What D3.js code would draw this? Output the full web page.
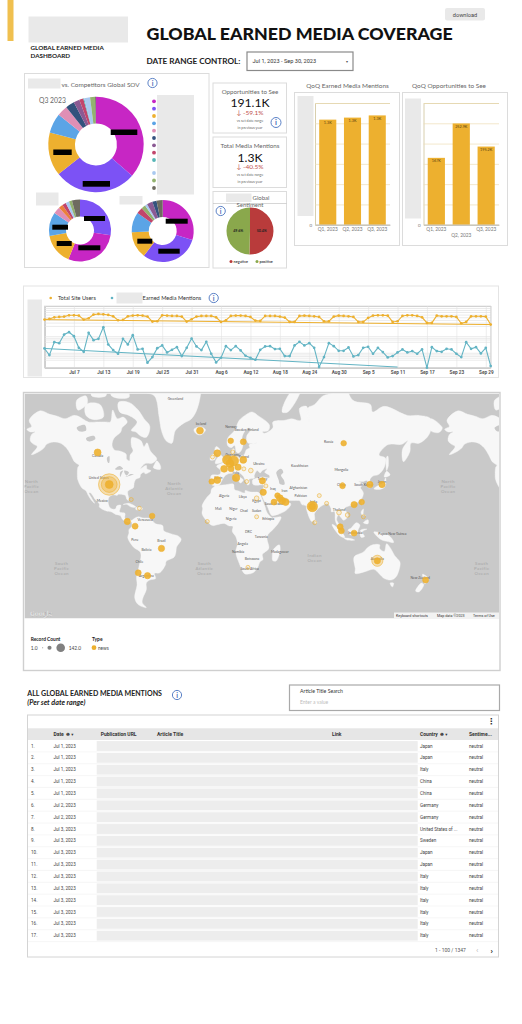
<!DOCTYPE html>
<html>
<head>
<meta charset="utf-8">
<script src="https://cdn.jsdelivr.net/npm/d3@7"></script>
<style>
  html, body { margin: 0; background: #fff; }
  svg { display: block; font-family: Lato, "Open Sans", sans-serif; }
</style>
</head>
<body>
<script>
// donuts
const sovColors = ['#c726c4', '#7c52f5', '#edb02f', '#5ba4e6', '#e08fb5', '#33527d', '#8b5a93', '#c2456b', '#55b5b5', '#a9c9f0', '#93b26f', '#6e6b60'];
const sovMain = [36.4, 28, 14.7, 6.7, 3.6, 3, 2, 1.4, 0.3, 2, 1.7, 0.3];
const sovLeft = [27.5, 28.6, 16, 12.5, 3.6, 2.2, 2, 1.8, 1.6, 4.2];
const sovLeftColors = ['#7c52f5', '#c726c4', '#edb02f', '#5ba4e6', '#e08fb5', '#ea7f3c', '#c2456b', '#a9c9f0', '#93b26f', '#6e6b60'];
const sovRight = [29.7, 30.6, 14, 10.5, 3.3, 2.2, 1.2, 3, 2.2, 3.2];
const sovRightColors = ['#c726c4', '#7c52f5', '#edb02f', '#5ba4e6', '#c2456b', '#93b26f', '#a9c9f0', '#8b5a93', '#33527d', '#6e6b60'];

// sentiment
const sentimentNames = ['negative', 'positive'];
const sentimentValues = [50.4, 49.6];

// quarters
const quarters = ['Q1, 2023', 'Q2, 2023', 'Q3, 2023'];
const mentionsByQuarter = [1295, 1320, 1347];
const opportunitiesByQuarter = [167000, 252900, 195200];

const siteUsers = [145, 147, 152, 153, 154, 158, 158, 157, 145, 149, 160, 162, 161, 159, 155, 143, 144, 155, 157, 158, 157, 154, 139, 140, 158, 157, 156, 156, 154, 139, 146, 154, 156, 156, 156, 152, 138, 143, 156, 157, 157, 156, 153, 142, 141, 156, 156, 156, 154, 151, 138, 138, 156, 157, 156, 155, 153, 140, 140, 154, 157, 156, 155, 153, 138, 138, 150, 157, 158, 158, 157, 138, 140, 156, 158, 158, 156, 152, 135, 135, 157, 155, 155, 155, 153, 134, 138, 155, 155, 155, 154, 130];
const mediaMentions = [58, 38, 77, 74, 100, 107, 95, 60, 48, 105, 83, 87, 122, 70, 53, 42, 87, 70, 98, 55, 57, 15, 32, 59, 67, 46, 54, 62, 35, 60, 88, 64, 53, 78, 42, 16, 30, 65, 53, 65, 52, 36, 30, 24, 54, 64, 65, 56, 57, 35, 35, 67, 78, 67, 74, 60, 2, 32, 74, 65, 51, 51, 61, 34, 38, 60, 63, 42, 60, 47, 31, 35, 46, 55, 46, 50, 42, 55, 0, 62, 50, 48, 57, 55, 42, 32, 77, 57, 62, 43, 60, 5];
const usersTrendValues = [145, 130];
const mentionsTrendValues = [58, 2];
const mentionsTrendDays = [new Date(2023, 6, 1), new Date(2023, 8, 11)];
const usersTrendDays = [new Date(2023, 6, 1), new Date(2023, 8, 30)];
const gridValues = [186, 180, 174, 168, 160, 152, 144, 136, 126, 95, 90, 85, 78, 45, 40, 35, 30, 24];
const dayTicks = [new Date(2023, 6, 7), new Date(2023, 6, 13), new Date(2023, 6, 19), new Date(2023, 6, 25), new Date(2023, 6, 31), new Date(2023, 7, 6), new Date(2023, 7, 12), new Date(2023, 7, 18), new Date(2023, 7, 24), new Date(2023, 7, 30), new Date(2023, 8, 5), new Date(2023, 8, 11), new Date(2023, 8, 17), new Date(2023, 8, 23), new Date(2023, 8, 29)];

// map: lon / lat outlines
const landShapes = [
  [[-168,65.5],[-164,66.5],[-166,68.5],[-156.5,71.3],[-148,70.3],[-141,69.7],[-135,69],[-128,70],[-124,69.8],[-115,68],[-108,68],[-100,68],[-96,68],[-94,71.5],[-90,69],[-85,69.5],[-81.5,68],[-86,66],[-87,64.5],[-93,62],[-94.5,59],[-92.5,57],[-88,56.5],[-82.5,55],[-82,52.5],[-79.5,51.5],[-79,54.5],[-76.5,56.5],[-78,59],[-77.5,62.4],[-73,62],[-69.5,61],[-67,58.5],[-64.5,60.2],[-61.5,56.5],[-56,52.5],[-60,50.2],[-66,50],[-70,47],[-65,49],[-64.5,47],[-61,45.8],[-66,44],[-67,45],[-70,43.5],[-70.5,41.7],[-74,40.6],[-75.5,38],[-76,35],[-78,33.8],[-81,32],[-80.2,27],[-80.5,25.2],[-82,26.5],[-83,29],[-85,29.7],[-89,30],[-90,29.2],[-94,29.5],[-97.3,27.5],[-97.7,22.5],[-95.5,18.8],[-91.5,18.6],[-90.5,21],[-87,21.5],[-88,16],[-83.5,15],[-83.5,11],[-81.5,9],[-79.5,9.5],[-77.5,8.7],[-78,7.5],[-80.5,7.3],[-83,8.3],[-85.7,10],[-87.5,13],[-91.5,14],[-95,16],[-100,17],[-105.5,20],[-105.5,22.5],[-109,26],[-113,31],[-114.5,31],[-112,27],[-109.5,23],[-112,25],[-115,29],[-117,32.5],[-120.5,34.5],[-124,40],[-124.5,43],[-124,48],[-123,49],[-127,51],[-130,54.5],[-134,58],[-139,60],[-145,60.5],[-151,59.5],[-153,58],[-158,56],[-164,54.7],[-159,58.5],[-162,59.5],[-165,61],[-164,63.5],[-161,64.5],[-165,64.5]],
  [[-80,73.5],[-72,71.5],[-67,69],[-62,66.5],[-65,62.5],[-70,63],[-74,64.5],[-78,65],[-73,68],[-80,70],[-88,71],[-89,73.5]],
  [[-117,73],[-105,73],[-102,69.5],[-110,68.7],[-117,70]],
  [[-125,74],[-117,75],[-116,73.2],[-124,71.5]],
  [[-95,75],[-80,74.7],[-80,76.5],[-62,82],[-90,81.5],[-95,77]],
  [[-112,75],[-100,75],[-100,76.5],[-112,76.5]],
  [[-59,47.7],[-53,46.7],[-53,49],[-56,51.5],[-58,49.5]],
  [[-85,22],[-80,23],[-74,20],[-78,20],[-82,22.2]],
  [[-74,19.5],[-69,19.7],[-68.5,18.3],[-74,18]],
  [[-73,78.2],[-60,82],[-30,83.5],[-18,80],[-20,73],[-26,69],[-33,67.5],[-40,65],[-43,60],[-48,61],[-52,65],[-54,69.5],[-58,75],[-68,76]],
  [[-24,65.5],[-18,66.4],[-14,65.3],[-18,63.4],[-22.5,64]],
  [[-77.5,8.7],[-72,12],[-68,11],[-62,10.6],[-57,6],[-51,4.5],[-50,0],[-44,-2.5],[-37,-4.8],[-35,-7.5],[-39,-14],[-39.5,-18],[-41,-22],[-48,-25.5],[-48.5,-28],[-53.5,-34],[-58,-34.5],[-57,-38],[-62,-39],[-65,-41],[-65,-45],[-68,-50],[-68.5,-52.5],[-65,-55],[-72,-53.5],[-75,-50],[-73,-42],[-73.5,-37],[-71.5,-30],[-70,-18.5],[-76,-14],[-81,-6],[-80,-2],[-80,1],[-77.5,4],[-77.5,7]],
  [[-6,35.8],[3,36.8],[10,37.3],[11,33.5],[15,32.3],[20,31],[20,32.7],[25,31.7],[32,31.2],[34,28],[37,21],[39,15.5],[43,11.5],[51,11.8],[49,7],[44,1],[40,-3],[39,-7],[40.5,-15],[35,-20],[35.5,-24],[32.8,-26],[31,-30],[27,-34],[20,-34.8],[18,-33],[15,-27],[12,-18],[13.5,-11],[12,-5],[9,-0.5],[9.5,3.8],[6,4.3],[2,6.3],[-4,5.2],[-8,4.5],[-13,8.5],[-17,14.5],[-16.5,19],[-17,21],[-13,27.5],[-9.5,31],[-9,33.5]],
  [[49.5,-12],[50.3,-16],[47,-25],[44,-25],[43.5,-21],[44.5,-16]],
  [[-9,37],[-9.5,38.7],[-9,43],[-2,43.5],[-1,46],[-4.5,48.5],[1.5,50.8],[4,52],[8,54],[8.5,57],[10.5,57.5],[10.5,54],[14,54],[19,54.5],[21,57],[24,58],[23.5,59.3],[30,60],[23,60],[21.5,61],[21.5,63],[25,65.5],[22,65.8],[17.5,62.5],[18.5,60],[16.5,56.5],[14,55.5],[12.5,56],[11,59],[8,58],[5,59],[5,62],[11,65],[15,68.5],[20,70],[26,71],[31,70],[41,67],[40,65],[35,64.5],[37,64],[44,66],[44,68],[54,68.5],[60,69],[68,68.5],[67,72],[73,72.5],[75,68],[74,72],[80,73],[87,75],[100,76],[105,77.5],[113,74],[128,73],[130,71],[140,72.5],[160,70],[170,70],[180,69],[180,65],[177,62.5],[170,60],[163,60],[162,56],[156.5,51],[155.5,57],[160,61],[155,59.5],[143,59.3],[135.5,54.5],[141,53],[140,48],[135,43.5],[130,42.5],[127.5,39.8],[129.5,36],[126.5,34.5],[126,37.5],[125,39.7],[121.5,39],[118,39],[122,37],[119.5,35],[122,31],[120,26],[114,22.3],[110,21],[106,19],[109,13],[105,9],[103,11],[100.5,13.5],[99,9.5],[103.5,2],[101,3],[98,8],[97,16.5],[94.5,16],[94,19],[91.5,22.5],[87,21.5],[80,15],[80,10],[77.5,8],[73,18],[72.5,21],[69,22],[67,25],[62,25.2],[57,25.5],[56.3,27],[51,28],[48.5,30],[48,29],[50,26],[51.5,25.5],[52,24],[56,25],[56.5,24],[59.5,22.5],[55,17],[45,13],[43,13],[39,21],[35,28],[34.5,31.5],[36,36.5],[30,36.5],[27,37],[26.5,40],[29,41],[35,42],[41,41.5],[41,43],[37,45],[39,47],[35,46],[33,44.5],[30.5,46],[28,43],[28,41.3],[23.5,40.5],[24,38],[22.5,36.5],[19.5,41],[18.5,42.5],[14,45],[12.5,44.5],[16,41.8],[18.5,40],[16,38],[12.5,42],[8.5,44.3],[3.5,43.2],[0,39.5],[-2,36.8],[-5.5,36]],
  [[-180,69],[-170,66],[-173,64.3],[-180,65]],
  [[-5.5,50],[1.5,51.3],[1.5,53],[-1.5,55],[-2,57.5],[-5,58.5],[-6,56],[-3,54],[-5,52]],
  [[-10,52],[-6,52.2],[-6,55],[-9,54.5]],
  [[52,71],[57,71],[68,76.5],[60,76]],
  [[131,34],[135,33.5],[140,35],[141.5,39],[141,41.5],[139.5,38.5],[133,35.5]],
  [[140,42],[145,43.3],[142,45.5]],
  [[142,46],[143.5,49],[143,54],[142,53.5]],
  [[120,23],[121,22],[122,25],[121,25.3]],
  [[120,16],[122,18.5],[122,14],[124,13],[120.5,14]],
  [[122,7],[126,6],[126,9.5],[123.5,8.5]],
  [[95,5.5],[98,4],[104,-2],[106,-6],[102,-4.5],[98,0]],
  [[105.5,-6.5],[110,-6.5],[114.5,-8],[108,-7.9]],
  [[109,1],[111,2],[116,7],[119,5],[117.5,1],[116,-3.5],[110,-3]],
  [[119.5,0.5],[125,1.5],[121,-1],[123,-5],[120,-5.5]],
  [[131,-1],[138,-2],[145,-5],[148,-10],[142,-9],[138,-8],[133,-4]],
  [[114,-22],[122,-18],[126,-14],[130,-12],[136,-12],[136,-15],[140,-17.5],[142,-11],[145.5,-15],[149,-21],[153.5,-26],[153,-31],[150,-37],[146,-39],[140,-38],[136,-35],[131,-31.5],[124,-33],[115,-34.5],[115,-31]],
  [[145,-41],[148,-41],[147,-43.5]],
  [[173,-35],[178,-38],[175,-41.5],[174,-39]],
  [[172,-41],[174,-42],[170,-46.5],[167,-46]],
  [[80,9.5],[82,7],[80.5,6]]
];
const waterShapes = [
  [[47,45],[51,47],[53,45],[51,43],[53.5,40],[54,37],[50,37.3],[49,40],[47.5,43]],
  [[-92,46.8],[-88,48.7],[-85,47],[-87,46.5]],
  [[-87.5,42],[-86,44.5],[-85,46],[-87.5,45]],
  [[-84,46],[-80,45],[-82,43],[-83.5,44]],
  [[-83,42],[-79,42.8],[-76,43.5],[-79,43.8],[-81,42.8]],
  [[-125,66],[-118,67],[-117,65],[-123,64.8]],
  [[-117,62],[-110,63],[-109,61.8],[-115,60.8]],
  [[-99,53],[-97,54],[-97,50.5],[-98,50.5]]
];
const bubbleSites = [
  [-97, 37, 142], [-97, 37, 70], [-97, 37, 12], [-107, 55.8, 8], [-18.8, 65, 8], [-3.9, 55.4, 8], [-8, 53.5, 1],
  [18.5, 60.6, 5], [7.7, 61, 4], [9.4, 56, 1], [4.7, 52, 20], [10, 51.5, 25], [7, 50, 12], [18.5, 52, 8], [2, 47, 8],
  [8, 47, 5], [14, 48, 6], [19, 47, 1], [25, 46, 2], [-3.9, 40, 8], [-8.7, 39, 4], [12.3, 41.5, 10], [21.4, 39, 1],
  [35, 39.5, 6], [35.7, 31.5, 6], [38, 36, 1], [30, 27, 2], [-12.5, 8, 1], [-78, 26, 1], [-71, 19, 1], [-60, 12.7, 4],
  [-81.4, 8, 6], [-74.7, 4, 5], [105, 60, 4], [45, 24, 5], [48, 29, 4], [50, 27, 8], [52, 25, 8], [55, 24, 8],
  [104, 37, 1], [104, 36, 4], [127.6, 37, 6], [138, 37, 6], [84, 29, 1], [78, 20.5, 25], [78, 20.5, 6], [90.3, 23, 1],
  [114, 22, 6], [120.5, 24, 4], [101, 15.5, 2], [108.4, 13.5, 2], [122, 12, 1], [80, 7, 1], [102, 3.5, 5], [103, 0, 5],
  [114, -2, 5], [30, 12, 1], [-52, -15, 6], [-72, -34, 5], [-64, -36, 6], [22.5, -30, 1], [134, -25, 30], [134, -25, 6], [175.6, -39, 5]
];
const mapLabels = [
  ['Greenland', -40, 74], ['Canada', -107, 53.5], ['United States', -106, 41], ['Mexico', -103, 24], ['Venezuela', -66, 8],
  ['Brazil', -52, -10], ['Peru', -75, -9], ['Bolivia', -65, -17], ['Chile', -71, -27], ['Argentina', -65, -37],
  ['Algeria', 2, 28], ['Libya', 18, 27], ['Egypt', 30, 24], ['Mali', -3, 18], ['Niger', 10, 18], ['Chad', 19, 16], ['Sudan', 30, 16],
  ['Nigeria', 8, 9], ['Ethiopia', 40, 9], ['DRC', 23, -2], ['Tanzania', 34, -6], ['Angola', 18, -12], ['Namibia', 14, -19],
  ['Botswana', 26, -24], ['South Africa', 24, -32], ['Madagascar', 50, -19], ['Iceland', -18, 67], ['Sweden', 16, 65], ['Norway', 8, 66],
  ['Finland', 27, 65], ['Poland', 19, 53], ['Germany', 9, 54], ['Ukraine', 32, 49], ['Spain', -3, 41], ['Italy', 12, 44], ['Turkey', 35, 40],
  ['Iran', 54, 32], ['Iraq', 44, 33], ['Saudi Arabia', 45, 22], ['Kazakhstan', 67, 48], ['Afghanistan', 66, 34], ['Pakistan', 68, 28],
  ['Russia', 92, 60], ['Mongolia', 103, 46], ['China', 103, 36], ['India', 79, 23], ['Thailand', 101, 17], ['South Korea', 122, 36], ['Japan', 138, 38],
  ['Indonesia', 115, -3], ['Papua New Guinea', 147, -4], ['Australia', 134, -24], ['New Zealand', 171, -38]
];
const oceanLabels = [
  [['North', 'Pacific', 'Ocean'], -164, 38], [['North', 'Atlantic', 'Ocean'], -41, 37], [['North', 'Pacific', 'Ocean'], 195, 38],
  [['South', 'Pacific', 'Ocean'], -138, -28], [['South', 'Atlantic', 'Ocean'], -15, -28], [['Indian', 'Ocean'], 80, -22], [['South', 'Pacific', 'Ocean'], 224, -28]
];
const recordSizes = [1, 30, 142];

// table
const rowDates = ['Jul 1, 2023', 'Jul 1, 2023', 'Jul 1, 2023', 'Jul 1, 2023', 'Jul 1, 2023', 'Jul 2, 2023', 'Jul 2, 2023', 'Jul 3, 2023', 'Jul 3, 2023', 'Jul 3, 2023', 'Jul 3, 2023', 'Jul 3, 2023', 'Jul 3, 2023', 'Jul 3, 2023', 'Jul 3, 2023', 'Jul 3, 2023', 'Jul 3, 2023'];
const rowCountries = ['Japan', 'Japan', 'Italy', 'China', 'China', 'Germany', 'Germany', 'United States of ...', 'Sweden', 'Japan', 'Japan', 'Italy', 'Italy', 'Italy', 'Italy', 'Italy', 'Italy'];
const rowSentiments = ['neutral', 'neutral', 'neutral', 'neutral', 'neutral', 'neutral', 'neutral', 'neutral', 'neutral', 'neutral', 'neutral', 'neutral', 'neutral', 'neutral', 'neutral', 'neutral', 'neutral'];

const amber = '#edb02f';
const teal = '#63b4c4';
const boxGrey = '#e9e9e9';
const cardLine = '#dcdcdc';

const svg = d3.select('body').append('svg').attr('width', 522).attr('height', 1024);

function box(parent, x, y, w, h, fill, stroke) {
  return parent.append('rect').attr('x', x).attr('y', y).attr('width', w).attr('height', h)
    .attr('fill', fill || 'none').attr('stroke', stroke || 'none');
}

function label(parent, str, x, y, size, color, opts) {
  const o = opts || {};
  return parent.append('text').attr('x', x).attr('y', y)
    .attr('font-size', size).attr('fill', color || '#333')
    .attr('font-weight', o.weight || 400)
    .attr('font-style', o.style || 'normal')
    .attr('font-family', o.family || null)
    .attr('text-anchor', o.anchor || 'start')
    .text(str);
}

function infoIcon(x, y, r) {
  const g = svg.append('g').attr('transform', `translate(${x},${y})`);
  g.append('circle').attr('r', r).attr('fill', '#fff').attr('stroke', '#4a74c0').attr('stroke-width', 0.9);
  g.append('text').attr('y', r * 0.55).attr('text-anchor', 'middle').attr('font-size', r * 1.5)
    .attr('font-weight', 700).attr('fill', '#3f69b5').text('i');
}

// 页头
box(svg, 7.5, 0, 6, 41, '#f0c04f');
box(svg, 28.5, 16.5, 99.5, 26, boxGrey);
label(svg, 'GLOBAL EARNED MEDIA', 30.5, 50, 6.3, '#222', { weight: 700 });
label(svg, 'DASHBOARD', 30.5, 57.5, 6.3, '#222', { weight: 700 });
label(svg, 'GLOBAL EARNED MEDIA COVERAGE', 146.5, 40, 17.8, '#111', { weight: 900 });
label(svg, 'DATE RANGE CONTROL:', 146.5, 63.5, 8.2, '#222', { weight: 700 });
box(svg, 247, 52, 106, 18.5, '#fff', '#8a8a8a').attr('stroke-width', 1.2);
label(svg, 'Jul 1, 2023 - Sep 30, 2023', 252.5, 63, 5.6, '#333', { family: 'Roboto' });
label(svg, '▾', 345.5, 63, 4, '#555');
box(svg, 445, 8, 40, 12.5, boxGrey).attr('rx', 2);
label(svg, 'download', 465, 16.5, 5.6, '#444', { anchor: 'middle', family: 'Roboto' });

// 占比环图
box(svg, 24.5, 73.5, 184.5, 194, '#fff', cardLine);
box(svg, 28, 78.5, 32.5, 10, boxGrey);
label(svg, 'vs. Competitors Global SOV', 61.5, 86.5, 6.4, '#666');
infoIcon(152.5, 83, 4.6);
label(svg, 'Q3 2023', 39, 103, 6.8, '#666');

function donut(values, colors, cx, cy, inner, outer) {
  const pie = d3.pie().sort(null).value(d => d);
  const arc = d3.arc().innerRadius(inner).outerRadius(outer);
  svg.append('g').attr('transform', `translate(${cx},${cy})`)
    .selectAll('path').data(pie(values)).enter()
    .append('path')
    .attr('d', arc)
    .attr('fill', (d, i) => colors[i]);
}
donut(sovMain, sovColors, 96, 144.5, 21, 47.7);
donut(sovLeft, sovLeftColors, 80, 230.5, 14, 31);
donut(sovRight, sovRightColors, 162.7, 231, 14, 31);

// 图例圆点
const legendY = d3.scalePoint().domain(d3.range(9)).range([101.3, 160]);
svg.append('g').selectAll('circle').data(sovColors).enter().append('circle')
  .attr('cx', 154)
  .attr('cy', (d, i) => i < 9 ? legendY(i) : 173 + (i - 9) * 7.5)
  .attr('r', 1.9)
  .attr('fill', d => d);
box(svg, 157, 95, 37, 99.5, boxGrey);

// 遮挡条
const masks = [[110.7, 129.5, 26.6, 5.5], [53.3, 149.5, 18.4, 5.5], [82.7, 181, 27.3, 5.7], [84, 216, 21, 5], [52.3, 224.7, 15.7, 5], [56.7, 241, 15, 5], [78.3, 245.3, 22, 5], [165.7, 218.7, 22, 5], [137.3, 238.7, 15, 5], [158.3, 248.7, 21.4, 5]];
masks.forEach(m => box(svg, m[0], m[1], m[2], m[3], '#000'));
box(svg, 36, 192.5, 22.5, 13, boxGrey);
box(svg, 119.5, 196, 23, 8.5, boxGrey);

// 指标卡
function kpiCard(y, h, title, value, delta, dy) {
  box(svg, 213, y, 73.5, h, '#fff', cardLine);
  label(svg, title, 250, y + 10.5, 6.2, '#666', { anchor: 'middle' });
  label(svg, value, 250, y + 23.5 + dy, 12.2, '#111', { anchor: 'middle' });
  label(svg, delta, 250, y + 32, 6.5, '#c0504d', { anchor: 'middle' });
  label(svg, 'vs set date range', 250, y + 39, 3.6, '#666', { anchor: 'middle' });
  label(svg, 'in previous year', 250, y + 45.5, 3.6, '#666', { anchor: 'middle' });
}
kpiCard(83, 50, 'Opportunities to See', '191.1K', '↓ -59.1%', 0);
infoIcon(276, 122.5, 5);
kpiCard(137, 50.5, 'Total Media Mentions', '1.3K', '↓ -40.5%', 1);

// 情感饼图
box(svg, 213, 191.5, 73.5, 76.5, '#fff', cardLine);
box(svg, 226, 193.5, 25.5, 8.5, boxGrey);
label(svg, 'Global', 261, 199.5, 6, '#666', { anchor: 'middle' });
svg.append('line').attr('x1', 213).attr('x2', 286.5).attr('y1', 203.5).attr('y2', 203.5).attr('stroke', '#bbb').attr('stroke-width', 0.6);
label(svg, 'Sentiment', 250, 207, 6, '#666', { anchor: 'middle' });
const sentimentColor = d3.scaleOrdinal().domain(sentimentNames).range(['#b93b3b', '#8aa84c']);
const pieG = svg.append('g').attr('transform', 'translate(250,231)');
const sentimentArcs = d3.pie().sort(null)(sentimentValues);
const sentimentArc = d3.arc().innerRadius(0).outerRadius(23.5);
pieG.selectAll('path').data(sentimentArcs).enter().append('path')
  .attr('d', sentimentArc)
  .attr('fill', (d, i) => sentimentColor(sentimentNames[i]));
pieG.selectAll('text').data(sentimentArcs).enter().append('text')
  .attr('transform', d => `translate(${sentimentArc.centroid(d)})`)
  .attr('text-anchor', 'middle').attr('dy', 1.2)
  .attr('font-size', 3.6).attr('font-weight', 700).attr('fill', '#222')
  .text(d => d.value.toFixed(1) + '%');
infoIcon(220.7, 211, 4.6);
sentimentNames.forEach((name, i) => {
  const x = 231 + i * 26;
  svg.append('circle').attr('cx', x).attr('cy', 261.5).attr('r', 1.5).attr('fill', sentimentColor(name));
  label(svg, name, x + 2.5, 263, 3.8, '#444', { weight: 700 });
});

// 季度柱图
function quarterBars(values, maxValue, fmt, card, plot, title, titleX, greyBox, stagger) {
  box(svg, card[0], card[1], card[2], card[3], '#fff', cardLine);
  label(svg, title, titleX, 88, 6.4, '#666', { anchor: 'middle' });
  box(svg, greyBox[0], greyBox[1], greyBox[2], greyBox[3], boxGrey);
  const x = d3.scaleBand().domain(quarters).range([plot[0], plot[1]]).paddingInner(0.31).paddingOuter(0.17);
  const y = d3.scaleLinear().domain([0, maxValue]).range([plot[3], plot[2]]);
  const g = svg.append('g');
  const yAxis = d3.axisLeft(y).tickValues(d3.range(0, 7).map(i => i * maxValue / 6)).tickSize(-(plot[1] - plot[0])).tickFormat(d => d === 0 ? '0' : '');
  const ya = g.append('g').attr('transform', `translate(${plot[0]},0)`).call(yAxis);
  ya.select('.domain').attr('stroke', '#d8cfae');
  ya.selectAll('.tick line').attr('stroke', '#ecdcb4').attr('stroke-width', 0.7);
  ya.selectAll('text').attr('font-size', 4.5).attr('fill', '#777').attr('font-family', 'Lato');
  g.selectAll('.bar').data(values).enter().append('rect')
    .attr('class', 'bar')
    .attr('x', (d, i) => x(quarters[i]))
    .attr('width', x.bandwidth())
    .attr('y', d => y(d))
    .attr('height', d => y(0) - y(d))
    .attr('fill', amber);
  g.selectAll('.val').data(values).enter().append('text')
    .attr('class', 'val')
    .attr('x', (d, i) => x(quarters[i]) + x.bandwidth() / 2)
    .attr('y', d => y(d) + 4.2)
    .attr('text-anchor', 'middle').attr('font-size', 3.8).attr('fill', '#5c4310')
    .text(fmt);
  const xa = g.append('g').attr('transform', `translate(0,${plot[3]})`)
    .call(d3.axisBottom(x).tickSize(0).tickPadding(3));
  xa.select('.domain').attr('stroke', '#bbb');
  xa.selectAll('text').attr('font-size', 4.8).attr('fill', '#777').attr('font-family', 'Lato')
    .attr('dy', (d, i) => stagger && i === 1 ? '1.9em' : '0.71em');
}
const kFormat = d => d3.format('.2s')(d).toUpperCase();
const kFormatLong = d => d3.format('.4~s')(d).toUpperCase();
quarterBars(mentionsByQuarter, 1500, kFormat, [294.5, 92.5, 105, 153], [315, 390, 103, 224.7], 'QoQ Earned Media Mentions', 347.5, [297.5, 96, 16, 120], false);
quarterBars(opportunitiesByQuarter, 304000, kFormatLong, [402.5, 92.5, 105, 153], [423.5, 499, 103, 224.7], 'QoQ Opportunities to See', 449, [405, 98.5, 16, 120], true);

// 折线图
box(svg, 23.5, 286, 475, 91.5, '#fff', '#e4e4e4');
box(svg, 27.5, 299.5, 14.5, 77, boxGrey);
const lineX = d3.scaleTime().domain([new Date(2023, 6, 1), new Date(2023, 8, 30)]).range([44.5, 490.7]);
const lineY = d3.scaleLinear().domain([0, 186]).range([367.7, 306]);
const days = d3.range(0, 92).map(i => new Date(2023, 6, 1 + i));
const gridG = svg.append('g');
gridG.append('g').attr('transform', 'translate(44.5,0)')
  .call(d3.axisLeft(lineY).tickValues(gridValues).tickSize(-446.2).tickFormat(''))
  .call(a => a.selectAll('.tick line').attr('stroke', '#e6e6e6').attr('stroke-width', 0.8))
  .call(a => a.select('.domain').attr('stroke', '#666').attr('stroke-width', 0.8));
const xAxisG = gridG.append('g').attr('transform', 'translate(0,367.7)')
  .call(d3.axisBottom(lineX).tickValues(dayTicks).tickSize(-61.7).tickPadding(3).tickFormat(d3.timeFormat('%b %-d')));
xAxisG.selectAll('.tick line').attr('stroke', '#e2e2e2').attr('stroke-width', 0.6);
xAxisG.select('.domain').attr('stroke', '#ddd');
xAxisG.selectAll('text').attr('font-size', 4.7).attr('font-weight', 700).attr('fill', '#555').attr('font-family', 'Roboto');
box(svg, 44.5, 306, 446.2, 61.7, 'none', '#d4d4d4').attr('stroke-width', 0.6);

function drawSeries(values, trendDays, trendValues, color) {
  const line = d3.line().x((d, i) => lineX(days[i])).y(d => lineY(d));
  const trend = d3.line().x((d, i) => lineX(trendDays[i])).y(d => lineY(d));
  const g = svg.append('g');
  g.append('path').attr('d', trend(trendValues)).attr('fill', 'none').attr('stroke', color).attr('stroke-width', 1);
  g.append('path').attr('d', line(values)).attr('fill', 'none').attr('stroke', color).attr('stroke-width', 1.1);
  g.selectAll('circle').data(values).enter().append('circle')
    .attr('cx', (d, i) => lineX(days[i]))
    .attr('cy', d => lineY(d))
    .attr('r', 1.35)
    .attr('fill', color);
}
drawSeries(siteUsers, usersTrendDays, usersTrendValues, amber);
drawSeries(mediaMentions, mentionsTrendDays, mentionsTrendValues, teal);

svg.append('circle').attr('cx', 50.7).attr('cy', 298).attr('r', 1.3).attr('fill', amber);
label(svg, 'Total Site Users', 58, 300, 5.6, '#333');
svg.append('circle').attr('cx', 112).attr('cy', 298).attr('r', 1.3).attr('fill', teal);
box(svg, 116.5, 292.5, 26, 11, boxGrey);
label(svg, 'Earned Media Mentions', 142.5, 300, 5.6, '#333');
infoIcon(213.7, 298, 4.6);

// 地图
box(svg, 23.5, 392.5, 476.5, 278, '#fff', '#cfcfcf').attr('stroke-width', 1.4);
const mapClip = svg.append('clipPath').attr('id', 'map-clip');
box(mapClip, 24.5, 393.5, 474.5, 225);
const projection = d3.geoMercator().scale(66.5).translate([221.8, 530.8]);
const worldWidth = 2 * Math.PI * 66.5;
const coast = d3.line().x(d => projection(d)[0]).y(d => projection(d)[1]).curve(d3.curveCatmullRomClosed.alpha(0.5));
const mapG = svg.append('g').attr('clip-path', 'url(#map-clip)');
box(mapG, 24.5, 393.5, 474.5, 225, '#c9c9c9');
[0, worldWidth].forEach(dx => {
  const copy = mapG.append('g').attr('transform', `translate(${dx},0)`);
  copy.selectAll('.land').data(landShapes).enter().append('path')
    .attr('class', 'land')
    .attr('d', coast)
    .attr('fill', '#f7f7f7').attr('stroke', '#f7f7f7').attr('stroke-width', 0.4).attr('stroke-linejoin', 'round');
  copy.selectAll('.lake').data(waterShapes).enter().append('path')
    .attr('class', 'lake')
    .attr('d', coast)
    .attr('fill', '#c9c9c9');
});
mapG.selectAll('.place').data(mapLabels).enter().append('text')
  .attr('class', 'place')
  .attr('x', d => projection([d[1], d[2]])[0])
  .attr('y', d => projection([d[1], d[2]])[1])
  .attr('text-anchor', 'middle').attr('font-size', 3.4).attr('fill', '#555')
  .text(d => d[0]);
oceanLabels.forEach(d => {
  const lon = d[1] > 180 ? d[1] - 360 : d[1];
  const shift = d[1] > 180 ? worldWidth : 0;
  const p = projection([lon, d[2]]);
  d[0].forEach((word, i) => {
    label(mapG, word, p[0] + shift, p[1] + i * 5.2, 4.4, '#a6a6a6', { anchor: 'middle' }).attr('letter-spacing', 0.4);
  });
});
const bubbleR = d3.scaleSqrt().domain([1, 142]).range([2, 10.7]);
mapG.selectAll('.site').data(bubbleSites).enter().append('circle')
  .attr('class', 'site')
  .attr('cx', d => projection([d[0], d[1]])[0])
  .attr('cy', d => projection([d[0], d[1]])[1])
  .attr('r', d => bubbleR(d[2]))
  .attr('fill', amber)
  .attr('fill-opacity', d => d[2] >= 30 ? 0.35 : d[2] >= 4 ? 0.9 : 0.15)
  .attr('stroke', amber)
  .attr('stroke-opacity', 0.8)
  .attr('stroke-width', 0.7);
label(mapG, 'Google', 30, 615.5, 7, '#fff', { weight: 700, family: 'Roboto' }).attr('stroke', '#9a9a9a').attr('stroke-width', 0.25);
box(mapG, 394, 612.5, 105, 6, '#f2f2f2');
label(mapG, 'Keyboard shortcuts', 396, 617, 3.7, '#333', { family: 'Roboto' });
label(mapG, 'Map data ©2023', 437, 617, 3.7, '#333', { family: 'Roboto' });
label(mapG, 'Terms of Use', 473, 617, 3.7, '#333', { family: 'Roboto' });

label(svg, 'Record Count', 30.7, 641, 4.9, '#222', { weight: 700 });
label(svg, '1.0', 30.7, 650, 4.9, '#444');
const legendSizeR = d3.scaleSqrt().domain([1, 142]).range([0.5, 4.3]);
const legendSizeX = d3.scaleOrdinal().domain(recordSizes).range([42.7, 49.5, 60.7]);
svg.append('g').selectAll('circle').data(recordSizes).enter().append('circle')
  .attr('cx', d => legendSizeX(d))
  .attr('cy', 647.7)
  .attr('r', d => legendSizeR(d))
  .attr('fill', '#808080');
label(svg, '142.0', 68.7, 650, 4.9, '#444');
label(svg, 'Type', 92, 641, 4.9, '#222', { weight: 700 });
svg.append('circle').attr('cx', 94).attr('cy', 647.7).attr('r', 2.4).attr('fill', amber);
label(svg, 'news', 98, 650, 4.7, '#444');

// 表格
label(svg, 'ALL GLOBAL EARNED MEDIA MENTIONS', 27.3, 695.5, 7.05, '#222', { weight: 700 });
label(svg, '(Per set date range)', 27.3, 705, 7.2, '#222', { weight: 700, style: 'italic' });
infoIcon(177, 695, 4.6);
box(svg, 289.5, 685, 210, 25.5, '#fff', '#a9a9a9').attr('stroke-width', 1.2);
label(svg, 'Article Title Search', 300, 693, 5.2, '#333');
label(svg, 'Enter a value', 300, 703.5, 5, '#bdbdbd');

box(svg, 27.5, 715, 471, 242, '#fff', '#d4d4d4');
box(svg, 28, 728.3, 470, 11.7, '#e6e6e6');
const headG = svg.append('g').attr('font-family', 'Roboto');
const tableHead = [['Date', 53.5], ['Publication URL', 100.7], ['Article Title', 157], ['Link', 332], ['Country', 420], ['Sentime...', 469]];
tableHead.forEach(h => label(headG, h[0], h[1], 736, 5, '#333', { weight: 700, family: 'Roboto' }));
label(headG, '❶ ▾', 66, 736, 4.3, '#333', { family: 'DejaVu Sans' });
label(headG, '❶ ▾', 440, 736, 4.3, '#333', { family: 'DejaVu Sans' });
label(svg, '⋮', 487.5, 724, 8, '#333', { family: 'DejaVu Sans', weight: 700 });

const rowY = d3.scaleLinear().domain([0, 16]).range([746, 935.7]);
const rows = svg.append('g').selectAll('g').data(rowDates).enter().append('g')
  .attr('transform', (d, i) => `translate(0,${rowY(i)})`);
rows.append('rect').attr('x', 96.7).attr('y', -4.9).attr('width', 321).attr('height', 9.8).attr('fill', '#ededed');
rows.append('line').attr('x1', 28).attr('x2', 498).attr('y1', 5.9).attr('y2', 5.9).attr('stroke', '#f0f0f0').attr('stroke-width', 0.6);
const rowText = (x, fn) => rows.append('text').attr('x', x).attr('y', 1.6)
  .attr('font-size', 4.6).attr('font-family', 'Roboto').attr('fill', '#444').text(fn);
rowText(31, (d, i) => (i + 1) + '.');
rowText(53.5, d => d);
rowText(420, (d, i) => rowCountries[i]);
rowText(469, (d, i) => rowSentiments[i]);

label(svg, '1 - 100 / 1347', 435, 952, 5, '#555', { family: 'Roboto' });
label(svg, '‹', 476, 953, 8, '#bbb', { family: 'Roboto' });
label(svg, '›', 490.5, 953, 8, '#222', { family: 'Roboto', weight: 700 });
</script>
</body>
</html>
